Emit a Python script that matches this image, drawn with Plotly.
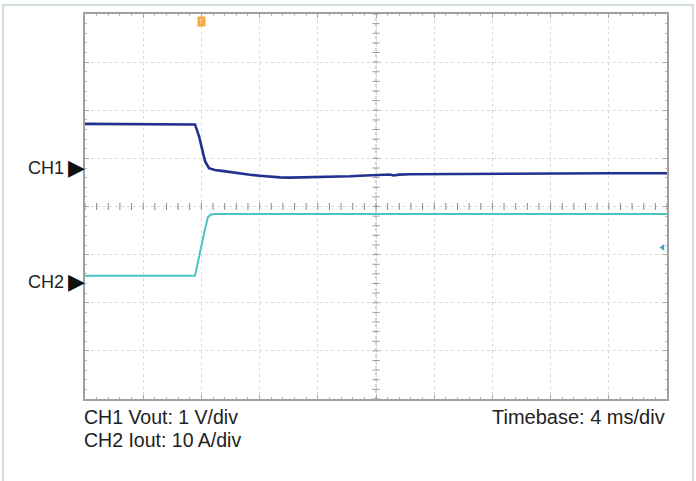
import numpy as np
import plotly.graph_objects as go

# ---- data (time in ms, amplitude in screen divisions from centre) ----
ch1_t = [0.0, 2.0, 4.0, 6.0, 7.56, 7.84, 8.25, 8.52, 8.93, 9.4, 9.97, 10.6, 11.34, 12.0, 12.71,
         13.4, 14.09, 14.8, 15.46, 16.1, 16.84, 17.5, 18.21, 18.9, 19.59, 20.2, 20.96, 21.2, 21.6,
         22.34, 23.4, 24.40, 25.4, 26.46, 28.52, 30.5, 32.65, 36.0, 40.0]
ch1_v = [1.716, 1.712, 1.716, 1.710, 1.705, 1.457, 0.940, 0.796, 0.760, 0.740, 0.713, 0.690, 0.660,
         0.640, 0.615, 0.605, 0.600, 0.604, 0.612, 0.606, 0.618, 0.625, 0.630, 0.640, 0.650, 0.660,
         0.665, 0.645, 0.662, 0.670, 0.672, 0.676, 0.680, 0.686, 0.690, 0.692, 0.692, 0.692, 0.692]

ch2_t = [0.0, 7.56, 8.25, 8.45, 8.66, 9.0, 40.0]
ch2_i = [-1.437, -1.437, -0.465, -0.217, -0.165, -0.155, -0.155]

ch1_marker = 0.796
ch2_marker = -1.57
trig_time = 8.0
trig_level = -0.85

x_range = [0, 40]
y_range = [-4, 4]

CH1_COLOR = "#22318f"
CH2_COLOR = "#4cc3c3"
FONT = "Liberation Sans, Arial, sans-serif"

fig = go.Figure()

# centre crosshair ticks
xt = np.arange(0, 40.001, 0.8)
yt = np.arange(-4, 4.001, 0.2)
fig.add_trace(go.Scatter(x=xt, y=np.zeros_like(xt), mode="markers",
                         marker=dict(symbol="line-ns", size=5, line=dict(width=1, color="#8a8a8a")),
                         hoverinfo="skip", showlegend=False))
fig.add_trace(go.Scatter(x=np.full_like(yt, 20.0), y=yt, mode="markers",
                         marker=dict(symbol="line-ew", size=5, line=dict(width=1, color="#9a9a9a")),
                         hoverinfo="skip", showlegend=False))

fig.add_trace(go.Scatter(x=ch2_t, y=ch2_i, mode="lines", line=dict(color=CH2_COLOR, width=2),
                         name="CH2", showlegend=False))
fig.add_trace(go.Scatter(x=ch1_t, y=ch1_v, mode="lines", line=dict(color=CH1_COLOR, width=2.6),
                         name="CH1", showlegend=False))

# trigger level marker
fig.add_trace(go.Scatter(x=[39.7], y=[trig_level], mode="markers",
                         marker=dict(symbol="triangle-left", size=6, color="#3aa6c8"),
                         hoverinfo="skip", showlegend=False))

shapes = [
    dict(type="line", xref="x", yref="y", x0=0, x1=40, y0=0, y1=0,
         line=dict(color="#6e6e6e", width=1, dash="dot"), layer="below"),
    dict(type="line", xref="x", yref="y", x0=20, x1=20, y0=-4, y1=4,
         line=dict(color="#a8a8a8", width=1, dash="dot"), layer="below"),
    dict(type="rect", xref="paper", yref="paper", x0=-0.1409, x1=1.0447, y0=-0.225, y1=1.0233,
         line=dict(color="#c3d2dc", width=1.5)),
]

lab_font = dict(family=FONT, size=18, color="#222")
tri_font = dict(family=FONT, size=22, color="#111")
annotations = [
    dict(xref="paper", yref="y", x=0, y=ch1_marker, text="CH1", showarrow=False,
         xanchor="right", yanchor="middle", xshift=-19, font=lab_font),
    dict(xref="paper", yref="y", x=0, y=ch1_marker, text="\u25B6", showarrow=False,
         xanchor="right", yanchor="middle", xshift=2, yshift=1, font=tri_font),
    dict(xref="paper", yref="y", x=0, y=ch2_marker, text="CH2", showarrow=False,
         xanchor="right", yanchor="middle", xshift=-19, font=lab_font),
    dict(xref="paper", yref="y", x=0, y=ch2_marker, text="\u25B6", showarrow=False,
         xanchor="right", yanchor="middle", xshift=2, yshift=1, font=tri_font),
    dict(xref="paper", yref="paper", x=0, y=-0.047, text="CH1 Vout: 1 V/div", showarrow=False,
         xanchor="left", yanchor="middle", xshift=-3, font=dict(family=FONT, size=19.5, color="#222")),
    dict(xref="paper", yref="paper", x=0, y=-0.106, text="CH2 Iout: 10 A/div", showarrow=False,
         xanchor="left", yanchor="middle", xshift=-3, font=dict(family=FONT, size=19.5, color="#222")),
    dict(xref="paper", yref="paper", x=1, y=-0.047, text="Timebase: 4 ms/div", showarrow=False,
         xanchor="right", yanchor="middle", font=dict(family=FONT, size=20, color="#222")),
    dict(xref="x", yref="paper", x=trig_time, y=0.98, text="T", showarrow=False,
         xanchor="center", yanchor="middle", bgcolor="#f5a742", borderpad=1,
         font=dict(family=FONT, size=7, color="#fde3b5")),
]

axis_common = dict(showgrid=True, gridcolor="#d9d9d9", griddash="dot", gridwidth=1,
                   zeroline=False, showline=True, linecolor="#a0a0a0", linewidth=1.5,
                   mirror="allticks", ticks="inside", ticklen=4, tickcolor="#a8a8a8",
                   showticklabels=False, fixedrange=True)

fig.update_xaxes(range=x_range, dtick=4, tick0=0,
                 minor=dict(ticks="inside", ticklen=2, dtick=0.8, tickcolor="#b8b8b8", showgrid=False),
                 **axis_common)
fig.update_yaxes(range=y_range, dtick=1, tick0=0,
                 minor=dict(ticks="inside", ticklen=2, dtick=0.2, tickcolor="#b8b8b8", showgrid=False),
                 **axis_common)

fig.update_layout(width=696, height=481, margin=dict(l=85, r=29, t=12, b=82),
                  paper_bgcolor="white", plot_bgcolor="white",
                  shapes=shapes, annotations=annotations, showlegend=False)

fig.write_html("out.html", config={"displayModeBar": False},
               post_script="document.body.style.margin='0';document.body.style.overflow='hidden';")
